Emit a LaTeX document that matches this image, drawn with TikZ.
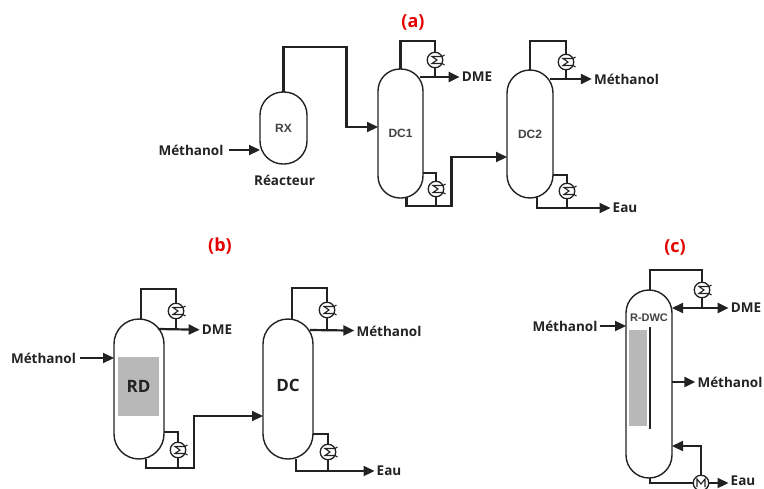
\documentclass[tikz,border=0pt]{standalone}
\usepackage{fontspec}
\setmainfont{Open Sans}
\newfontfamily\arialfont{Liberation Sans}
\usepackage{tikz}
\usetikzlibrary{arrows.meta, positioning, calc}
\definecolor{inkdark}{HTML}{222222}

\begin{document}
\begin{tikzpicture}[
    x=1pt, y=-1pt,
    font=\bfseries\fontsize{13.5}{15}\selectfont,
    >={Triangle[length=11pt,width=10pt]},
    vessel/.style={rectangle, draw=inkdark, fill=white, line width=1.4pt, outer sep=0pt, inner sep=0pt, text=inkdark},
    hx/.style={circle, draw=inkdark, fill=white, line width=1.3pt, minimum size=15.5pt, inner sep=0pt, outer sep=0pt},
    pipe/.style={draw=inkdark, line width=2.2pt},
    flow/.style={pipe, ->},
    coilline/.style={draw=inkdark, line width=1.1pt},
    stream/.style={text=inkdark, inner sep=2pt},
    tag/.style={text=red!90!black, font=\bfseries\fontsize{18}{20}\selectfont},
    tower/.style={font=\arialfont\bfseries\fontsize{12}{14}\selectfont, text=inkdark!85},
    big/.style={font=\bfseries\fontsize{17}{19}\selectfont, text=inkdark},
    packing/.style={fill=black!28, draw=none, inner sep=0pt}
]
\useasboundingbox (0,0) rectangle (764,488);

% Titles
\node (taga) [tag] at (413,22) {(a)};
\node (tagb) [tag] at (220,246) {(b)};
\node (tagc) [tag] at (675,247) {(c)};

% Vessels
\node (rx) [vessel, tower, minimum width=47pt, minimum height=72pt, rounded corners=23pt] at (283.5,128) {RX};
\node (dcone) [vessel, tower, minimum width=45pt, minimum height=129pt, rounded corners=22pt, right=71pt of rx, yshift=-5.5pt] {DC1};
\node (dctwo) [vessel, tower, minimum width=46pt, minimum height=128pt, rounded corners=23pt, right=84pt of dcone, yshift=-0.5pt] {DC2};
\node (rd) [vessel, minimum width=50pt, minimum height=140pt, rounded corners=25pt] at (139,389) {};
\node (dc) [vessel, minimum width=50pt, minimum height=140pt, rounded corners=25pt, right=99pt of rd] {};
\node (rdwc) [vessel, minimum width=46pt, minimum height=188pt, rounded corners=23pt] at (649,384) {};
\node (dclabel) [big] at (288,385) {DC};

% Packing and wall
\node (rdpack) [packing, minimum width=41pt, minimum height=59pt] at (138.5,386.5) {};
\node (rdlabel) [big] at (rdpack) {RD};
\node (dwcpack) [packing, minimum width=18pt, minimum height=96pt] at (638,378) {};
\coordinate (walltop) at (650,327);
\coordinate (wallend) at (650,429);
\draw [pipe] (walltop) -- (wallend);
\node (dwclabel) [font=\arialfont\bfseries\fontsize{11}{13}\selectfont, inner sep=0pt, text=inkdark!85] at (649,318) {R-DWC};

% Stream labels
\node (feedrx) [stream] at (191,150) {Méthanol};
\node (reacteur) [stream, below=9pt of rx, xshift=1pt] {Réacteur};
\node (dmea) [stream] at (477,77) {DME};
\node (metha) [stream] at (626.5,79) {Méthanol};
\node (eaua) [stream] at (625,208) {Eau};
\node (feedrd) [stream] at (43.5,358) {Méthanol};
\node (dmeb) [stream] at (217,330) {DME};
\node (methb) [stream] at (389,331) {Méthanol};
\node (eaub) [stream] at (389,471) {Eau};
\node (feedc) [stream] at (565,326) {Méthanol};
\node (dmec) [stream] at (746,308) {DME};
\node (methc) [stream] at (730,382) {Méthanol};
\node (eauc) [stream] at (743,481) {Eau};

% Exchangers
\node (cda) [hx] at ($(dcone.north)+(34.5,-9)$) {};
\node (rba) [hx] at ($(dcone.south)+(35.5,-9)$) {};
\node (cdb) [hx] at ($(dctwo.north)+(36,-8)$) {};
\node (rbb) [hx] at ($(dctwo.south)+(37,-7)$) {};
\node (cdc) [hx] at ($(rd.north)+(37,-8)$) {};
\node (rbc) [hx] at ($(rd.south)+(39,-9)$) {};
\node (cdd) [hx] at ($(dc.north)+(39,-9)$) {};
\node (rbd) [hx] at ($(dc.south)+(40,-7)$) {};
\node (cde) [hx] at ($(rdwc.north)+(53,0)$) {};
\node (rbe) [hx] at ($(rdwc.south)+(52,5)$) {};

% Paths (a)
\draw [flow] ([xshift=3pt]feedrx.east) -- (rx.west |- feedrx);
\draw [flow] (rx.north) -- ++(0,-45) -- ++(63,0) -- ++(0,80) -- (dcone.west |- 346,127);
\draw [pipe] (dcone.north) -- ++(0,-28) -| (cda);
\draw [pipe] (cda) -- ++(0,17);
\draw [flow] ($(dcone.north east)+(-3,8)$) -- (dmea);
\draw [pipe] ($(dcone.south east)+(0,-25)$) -| (rba);
\draw [pipe] (rba) -- ++(0,17);
\draw [flow] ($(dcone.south)+(6,-1)$) |- ++(45,9) -- ++(0,-49) -- (dctwo.west |- 452,157);
\draw [pipe] (dctwo.north) -- ++(0,-29) -| (cdb);
\draw [pipe] (cdb) -- ++(0,17);
\draw [flow] ($(dctwo.north east)+(-3,9)$) -- (metha);
\draw [pipe] ($(dctwo.south east)+(0,-23)$) -| (rbb);
\draw [pipe] (rbb) -- ++(0,17);
\draw [flow] ($(dctwo.south)+(7,-1)$) |- (eaua);

% Paths (b)
\draw [flow] ([xshift=2pt]feedrd.east) -- (rd.west |- feedrd);
\draw [pipe] ($(rd.north)+(2,0)$) -- ++(0,-30) -| (cdc);
\draw [pipe] (cdc) -- ++(0,18);
\draw [flow] ($(rd.north east)+(-6,10)$) -- (dmeb);
\draw [pipe] ($(rd.south east)+(0,-27)$) -| (rbc);
\draw [pipe] (rbc) -- ++(0,18);
\draw [flow] ($(rd.south)+(7,0)$) |- ++(48,9) -- ++(0,-52) -- (dc.west |- 194,416);
\draw [pipe] ($(dc.north)+(4,0)$) -- ++(0,-31) -| (cdd);
\draw [pipe] (cdd) -- ++(0,20);
\draw [flow] ($(dc.north east)+(-3,11)$) -- (methb);
\draw [pipe] ($(dc.south east)+(0,-25)$) -| (rbd);
\draw [pipe] (rbd) -- ++(0,18);
\draw [flow] ($(dc.south)+(8,0)$) |- (eaub);

% Paths (c)
\draw [flow] (feedc) -- (rdwc.west |- feedc);
\draw [pipe] (rdwc.north) ++(1,0) -- ++(0,-20) -| (cde);
\draw [pipe] (cde) -- ++(0,18);
\draw [pipe, <->] (rdwc.east |- dmec) -- (dmec);
\draw [flow] (rdwc.east |- methc) -- (methc);
\draw [pipe] (rdwc.south) ++(1,0) -- ++(0,5) -- (rbe);
\draw [flow] (rbe) -- (rbe -| eauc.west);
\draw [flow] (rbe) -- ++(0,-37) -- (rdwc.east |- 701,446);

% Coils
\foreach \hxname in {cda,rba,cdb,rbb,cdc,rbc,cdd,rbd,cde}
    \draw [coilline] ($(\hxname)+(9.5,-5)$) -- ($(\hxname)+(7,-3.5)$) -- ($(\hxname)+(-3,-3.5)$) -- ($(\hxname)+(2,0)$) -- ($(\hxname)+(-3,3.5)$) -- ($(\hxname)+(7,3.5)$) -- ($(\hxname)+(9.5,5)$);
\draw [coilline] ($(rbe)+(-4,4)$) -- ($(rbe)+(-4,-4)$) -- ($(rbe)+(0,1)$) -- ($(rbe)+(4,-4)$) -- ($(rbe)+(4,4)$);

\end{tikzpicture}
\end{document}
